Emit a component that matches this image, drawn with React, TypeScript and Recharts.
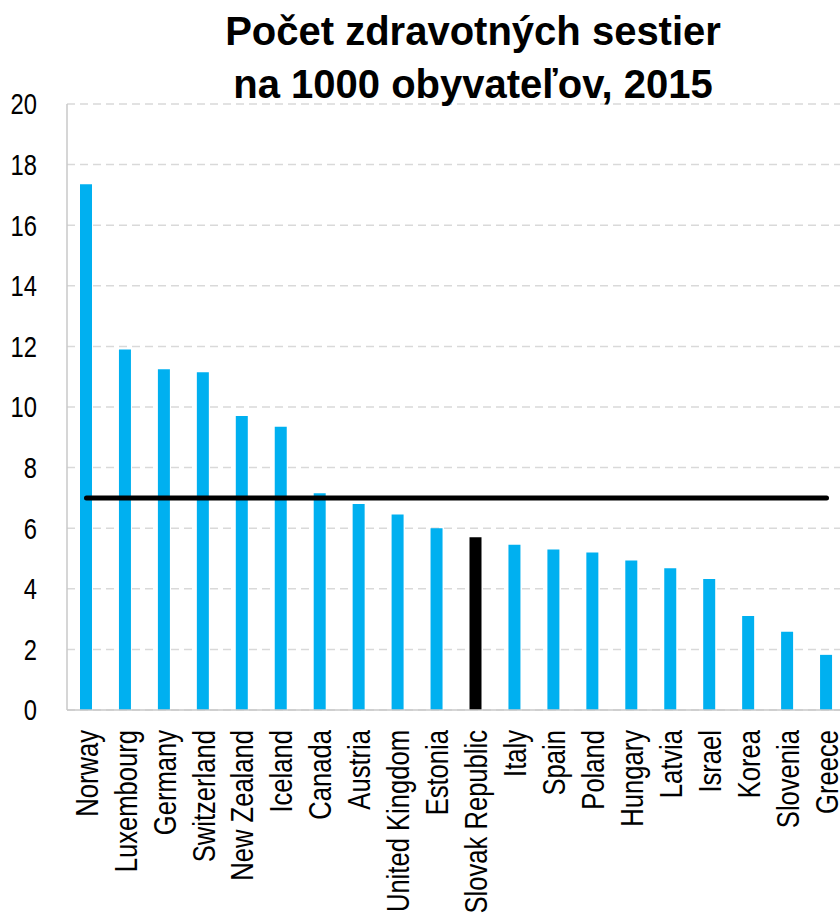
import React from "react";
import {
  ComposedChart,
  Bar,
  Line,
  Cell,
  XAxis,
  YAxis,
  CartesianGrid,
} from "recharts";

// Countries, left to right
const countries = [
  "Norway",
  "Luxembourg",
  "Germany",
  "Switzerland",
  "New Zealand",
  "Iceland",
  "Canada",
  "Austria",
  "United Kingdom",
  "Estonia",
  "Slovak Republic",
  "Italy",
  "Spain",
  "Poland",
  "Hungary",
  "Latvia",
  "Israel",
  "Korea",
  "Slovenia",
  "Greece",
];

// Nurses per 1000 inhabitants, 2015
const nurses = [
  17.35, 11.9, 11.25, 11.15, 9.7, 9.35, 7.15, 6.8, 6.45, 6.0,
  5.7, 5.45, 5.3, 5.2, 4.93, 4.68, 4.32, 3.1, 2.58, 1.82,
];

// OECD average (black line)
const oecdAverage = 7;

const yTicks = [0, 2, 4, 6, 8, 10, 12, 14, 16, 18, 20];

const highlight = "Slovak Republic";

const data = countries.map((name, i) => ({
  name,
  value: nurses[i],
  avg: oecdAverage,
}));

// no narrow font installed, so squeeze the regular one
const tickFont = "'Liberation Sans', Arial, sans-serif";

const YTick = ({ y, payload }: any) => (
  <g transform={`translate(37, ${y}) scale(0.82, 1)`}>
    <text x={0} y={0} dy="0.36em" textAnchor="end" fontFamily={tickFont} fontSize={29} fill="#000">
      {payload.value}
    </text>
  </g>
);

const XTick = ({ x, y, payload }: any) => (
  <g transform={`translate(${x}, ${y + 12}) rotate(-90) scale(0.8, 1)`}>
    <text x={0} y={0} dy="0.35em" textAnchor="end" fontFamily={tickFont} fontSize={32} fill="#000">
      {payload.value}
    </text>
  </g>
);

export default function App() {
  return (
    <div
      style={{
        position: "absolute",
        left: 0,
        top: 0,
        width: 840,
        height: 918,
        overflow: "hidden",
        background: "#fff",
      }}
    >
      <ComposedChart
        width={846}
        height={918}
        data={data}
        margin={{ top: 104, right: 0, bottom: 0, left: 0 }}
      >
        <CartesianGrid
          horizontal={true}
          vertical={false}
          stroke="#d9d9d9"
          strokeWidth={1.5}
          strokeDasharray="8 5"
        />
        <XAxis
          dataKey="name"
          interval={0}
          height={208}
          tick={<XTick />}
          tickLine={false}
          axisLine={{ stroke: "#c8c8c8", strokeWidth: 1.5 }}
        />
        <YAxis
          domain={[0, 20]}
          ticks={yTicks}
          width={67}
          tick={<YTick />}
          tickLine={false}
          axisLine={{ stroke: "#c8c8c8", strokeWidth: 1.5 }}
        />
        <Bar dataKey="value" barSize={12} isAnimationActive={false}>
          {data.map((d) => (
            <Cell key={d.name} fill={d.name === highlight ? "#000000" : "#00b0f0"} />
          ))}
        </Bar>
        <Line
          dataKey="avg"
          stroke="#000"
          strokeWidth={5}
          strokeLinecap="round"
          dot={false}
          activeDot={false}
          isAnimationActive={false}
        />
      </ComposedChart>
      <div
        style={{
          position: "absolute",
          left: 100,
          top: 5,
          width: 746,
          textAlign: "center",
          fontFamily: "'Liberation Sans', Arial, sans-serif",
          fontWeight: "bold",
          fontSize: 40,
          lineHeight: "53px",
          color: "#000",
        }}
      >
        Počet zdravotných sestier
        <br />
        na 1000 obyvateľov, 2015
      </div>
    </div>
  );
}
